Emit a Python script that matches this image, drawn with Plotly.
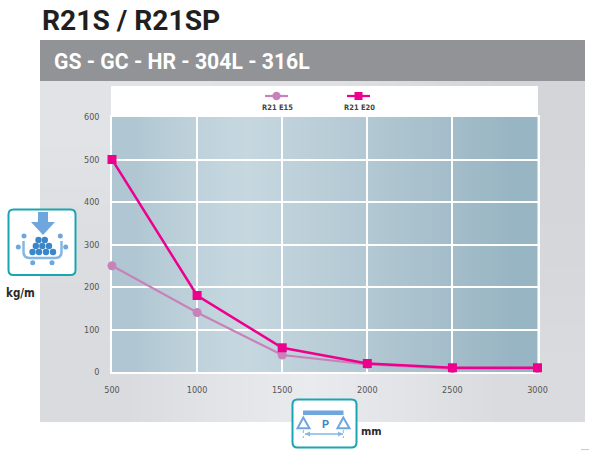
import plotly.graph_objects as go

spans = [500, 1000, 1500, 2000, 2500, 3000]
e15 = [250, 140, 40, 18, 8, 8]
e20 = [500, 180, 57, 20, 10, 10]
y_ticks = [0, 100, 200, 300, 400, 500, 600]
title = "R21S / R21SP"
band = "GS - GC - HR - 304L - 316L"
panel_levels = [[226, 225, 212], [220, 226, 214], [218, 234, 218]]
plot_levels = [0.12, 0.33, 0.47, 0.55, 0.62, 0.7, 0.78, 0.86, 0.94]

W, H = 589, 450
NARROW = "DejaVu Sans Condensed, Liberation Sans, sans-serif"
PINK, MAUVE = "#ec008c", "#c882ba"
TEAL, BLUE, LIGHT, DARK = "#1aa6b0", "#6ea6dd", "#85b7e3", "#3b86c8"

fig = go.Figure()
fig.add_trace(go.Heatmap(x=[40, 210, 410, 585], y=[81, 195, 310, 422], z=panel_levels, zsmooth="best",
    zmin=200, zmax=240, showscale=False, hoverinfo="skip",
    colorscale=[[0, "rgb(200,201,204)"], [1, "rgb(240,241,244)"]]))
fig.add_trace(go.Heatmap(x=[112 + i * 47.25 for i in range(10)], y=[117, 372],
    z=[plot_levels], zsmooth="best", zmin=0, zmax=1, showscale=False, hoverinfo="skip",
    colorscale=[[0, "#a9c2cf"], [0.5, "#c6d7df"], [1, "#92b0bf"]]))

fig.add_trace(go.Scatter(x=spans, y=e15, name="R21 E15", mode="lines+markers", xaxis="x2", yaxis="y2",
    line=dict(color=MAUVE, width=2.2), marker=dict(symbol="circle", size=9, color=MAUVE),
    cliponaxis=False, hoverinfo="skip"))
fig.add_trace(go.Scatter(x=spans, y=e20, name="R21 E20", mode="lines+markers", xaxis="x2", yaxis="y2",
    line=dict(color=PINK, width=2.5), marker=dict(symbol="square", size=9, color=PINK),
    cliponaxis=False, hoverinfo="skip"))

shapes = []
def rect(x0, y0, x1, y1, fill):
    shapes.append(dict(type="rect", xref="x", yref="y", x0=x0, y0=y0, x1=x1, y1=y1,
                       fillcolor=fill, line=dict(width=0), layer="above"))
def circ(cx, cy, r, fill):
    shapes.append(dict(type="circle", xref="x", yref="y", x0=cx - r, y0=cy - r, x1=cx + r, y1=cy + r,
                       fillcolor=fill, line=dict(width=0), layer="above"))
def path(d, fill=None, color=None, width=0, dash=None):
    line = dict(width=width)
    if color:
        line["color"] = color
    if dash:
        line["dash"] = dash
    s = dict(type="path", xref="x", yref="y", path=d, line=line, layer="above")
    if fill:
        s["fillcolor"] = fill
    shapes.append(s)
def rrect(x0, y0, x1, y1, r):
    return (f"M{x0+r},{y0} L{x1-r},{y0} Q{x1},{y0} {x1},{y0+r} L{x1},{y1-r} Q{x1},{y1} {x1-r},{y1} "
            f"L{x0+r},{y1} Q{x0},{y1} {x0},{y1-r} L{x0},{y0+r} Q{x0},{y0} {x0+r},{y0} Z")

rect(40, 40, 585, 81, "#929396")
rect(111, 86, 538, 117, "#ffffff")
rect(581, 449, 589, 450, "#a9d3ee")

shapes.append(dict(type="line", xref="x", yref="y", x0=265, x1=288, y0=96, y1=96,
                   line=dict(color=MAUVE, width=2.2), layer="above"))
circ(276.5, 96, 4.2, MAUVE)
shapes.append(dict(type="line", xref="x", yref="y", x0=347, x1=370, y0=96, y1=96,
                   line=dict(color=PINK, width=2.2), layer="above"))
rect(354.5, 92, 362.5, 100, PINK)

path(rrect(8.5, 209.5, 75.5, 275, 5), fill="#ffffff", color=TEAL, width=2)
path("M38,212 L48,212 L48,222 L55,222 L43,235 L31,222 L38,222 Z", fill=BLUE)
path("M23.5,241 L23.5,252 Q23.5,258 30,258 L55,258 Q61.5,258 61.5,252 L61.5,241", color=LIGHT, width=2.5)
for cx, cy in [(24, 236), (60.3, 236), (18.3, 247), (65.7, 247), (32.7, 262.7), (52, 262.7)]:
    circ(cx, cy, 2.5, BLUE)
for cx, cy in [(38.5, 240), (44.8, 240), (35.8, 246), (42.3, 246), (49, 246),
               (32.5, 252), (39, 252), (46, 252), (53, 252)]:
    circ(cx, cy, 3.2, DARK)

path(rrect(292.5, 399.5, 356.5, 447.5, 5), fill="#ffffff", color=TEAL, width=2)
rect(303, 410.5, 343.5, 415, BLUE)
path("M303.3,417.5 L297.5,428.3 L309.5,428.3 Z", color=BLUE, width=2)
path("M343.3,417.5 L337.5,428.3 L349.5,428.3 Z", color=BLUE, width=2)
path("M305,434 L343,434", color=LIGHT, width=1.5)
path("M305,434 L310,431.5 L310,436.5 Z", fill=LIGHT)
path("M343,434 L338,431.5 L338,436.5 Z", fill=LIGHT)
path("M303.3,430 L303.3,438", color=LIGHT, width=1, dash="dot")
path("M343.3,430 L343.3,438", color=LIGHT, width=1, dash="dot")

def note(x, y, text, size, color, family=NARROW):
    return dict(xref="x", yref="y", x=x, y=y, text=text, showarrow=False, xanchor="center", yanchor="middle",
                font=dict(family=family, size=size, color=color))

fig.update_layout(
    width=W, height=H, autosize=False, margin=dict(l=0, r=0, t=0, b=0, pad=0, autoexpand=False),
    paper_bgcolor="#ffffff", plot_bgcolor="rgba(0,0,0,0)", showlegend=False,
    xaxis=dict(domain=[0, 1], range=[0, W], visible=False, fixedrange=True),
    yaxis=dict(domain=[0, 1], range=[H, 0], visible=False, fixedrange=True),
    xaxis2=dict(domain=[112 / W, 537.5 / W], range=[500, 3000], anchor="y2", tickvals=spans, layer="below traces",
                showgrid=True, gridcolor="#ffffff", gridwidth=1.5, showline=True, linecolor="#ffffff", linewidth=1.5,
                mirror=True, ticks="outside", ticklen=8, tickcolor="rgba(0,0,0,0)", zeroline=False,
                tickfont=dict(family=NARROW, size=9, color="#555555")),
    yaxis2=dict(domain=[(H - 372) / H, (H - 117) / H], range=[0, 600], anchor="x2", tickvals=y_ticks, layer="below traces",
                showgrid=True, gridcolor="#ffffff", gridwidth=1.5, showline=True, linecolor="#ffffff", linewidth=1.5,
                mirror=True, ticks="outside", ticklen=9, tickcolor="rgba(0,0,0,0)", zeroline=False,
                tickfont=dict(family=NARROW, size=9, color="#555555")),
    shapes=shapes,
    annotations=[
        note(131, 20, "<b>" + title + "</b>", 28.2, "#1f1f21", "Roboto, sans-serif"),
        note(182, 61, "<b>" + band + "</b>", 21.2, "#ffffff", "Roboto, sans-serif"),
        note(277, 107, "<b>R21 E15</b>", 7.5, "#444444"),
        note(359, 107, "<b>R21 E20</b>", 7.5, "#444444"),
        note(20, 293, "<b>kg/m</b>", 11.5, "#2a2a2a"),
        note(371, 431, "<b>mm</b>", 11, "#2a2a2a"),
        note(325, 424, "<b>P</b>", 11, DARK, "Roboto, sans-serif"),
    ],
)
fig.write_html("out.html", config=dict(displayModeBar=False),
               post_script="document.body.style.margin='0';")
